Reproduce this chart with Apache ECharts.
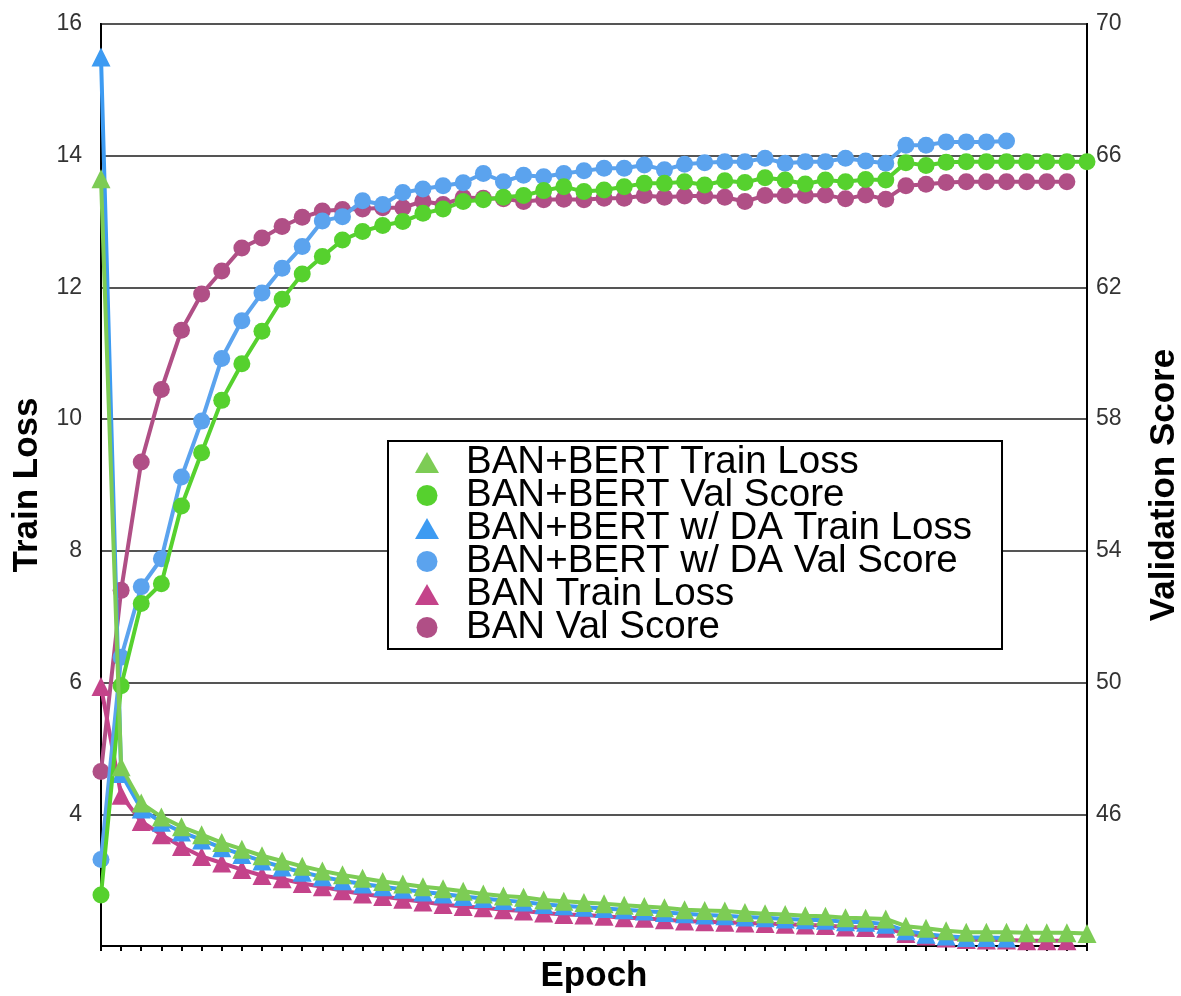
<!DOCTYPE html>
<html>
<head>
<meta charset="utf-8">
<script src="https://cdn.jsdelivr.net/npm/echarts@6/dist/echarts.min.js"></script>
<style>
html,body{margin:0;padding:0;background:#fff;}
#chart{width:1181px;height:996px;}
</style>
</head>
<body>
<div id="chart"></div>
<script>
const epochs = [1,2,3,4,5,6,7,8,9,10,11,12,13,14,15,16,17,18,19,20,21,22,23,24,25,26,27,28,29,30,31,32,33,34,35,36,37,38,39,40,41,42,43,44,45,46,47,48,49,50];

const bertLoss = [13.65,4.72,4.17,3.96,3.81,3.69,3.57,3.47,3.37,3.29,
  3.21,3.14,3.08,3.03,2.98,2.94,2.90,2.87,2.83,2.79,
  2.76,2.74,2.70,2.68,2.66,2.64,2.62,2.60,2.58,2.55,
  2.54,2.53,2.51,2.49,2.48,2.46,2.45,2.43,2.42,2.41,
  2.30,2.27,2.23,2.21,2.21,2.21,2.20,2.20,2.20,2.19];

const bertVal = [43.55,49.9,52.4,53.0,55.36,56.98,58.57,59.68,60.67,61.64,
  62.41,62.94,63.44,63.70,63.88,64.00,64.25,64.38,64.61,64.66,
  64.74,64.79,64.94,65.06,64.91,64.96,65.06,65.16,65.16,65.21,
  65.11,65.24,65.19,65.33,65.26,65.14,65.26,65.21,65.28,65.26,
  65.79,65.70,65.80,65.82,65.82,65.82,65.82,65.82,65.82,65.82];

const daLoss = [15.5,4.62,4.08,3.88,3.73,3.61,3.49,3.39,3.29,3.20,
  3.12,3.05,2.99,2.94,2.90,2.86,2.82,2.79,2.75,2.72,
  2.69,2.67,2.63,2.61,2.59,2.57,2.55,2.53,2.51,2.49,
  2.47,2.46,2.44,2.43,2.41,2.40,2.39,2.37,2.36,2.33,
  2.23,2.18,2.15,2.13,2.13,2.12];

const daVal = [44.63,50.77,52.91,53.76,56.24,57.94,59.84,60.99,61.83,62.58,
  63.24,64.02,64.15,64.63,64.52,64.88,64.99,65.09,65.18,65.46,
  65.21,65.41,65.36,65.46,65.54,65.62,65.62,65.72,65.57,65.74,
  65.79,65.82,65.82,65.92,65.77,65.82,65.82,65.92,65.84,65.77,
  66.32,66.32,66.42,66.42,66.42,66.45];

const banLoss = [5.94,4.29,3.89,3.69,3.51,3.36,3.26,3.16,3.07,3.02,
  2.95,2.90,2.84,2.79,2.75,2.71,2.67,2.63,2.60,2.58,
  2.55,2.53,2.50,2.48,2.47,2.45,2.43,2.42,2.40,2.38,
  2.37,2.36,2.35,2.34,2.33,2.32,2.31,2.29,2.28,2.27,
  2.19,2.15,2.12,2.10,2.09,2.09,2.08,2.08,2.08];

const banVal = [47.3,52.8,56.7,58.9,60.7,61.8,62.5,63.2,63.5,63.85,
  64.13,64.32,64.37,64.38,64.42,64.42,64.62,64.52,64.73,64.71,
  64.69,64.61,64.66,64.68,64.66,64.71,64.71,64.79,64.74,64.78,
  64.78,64.74,64.61,64.79,64.79,64.79,64.81,64.69,64.81,64.68,
  65.09,65.13,65.19,65.21,65.21,65.21,65.21,65.21,65.21];

const seriesNames = ['BAN+BERT Train Loss','BAN+BERT Val Score','BAN+BERT w/ DA Train Loss','BAN+BERT w/ DA Val Score','BAN Train Loss','BAN Val Score'];

const FONT = "'Liberation Sans', Arial, sans-serif";

function mk(name, data, color, sym, axis, z) {
  return {
    name: name, type: 'line', data: data, yAxisIndex: axis,
    symbol: sym, symbolSize: sym === 'triangle' ? 19 : 17,
    showSymbol: true, showAllSymbol: true,
    lineStyle: {color: color, width: 4},
    itemStyle: {color: color, opacity: 1},
    z: z, animation: false
  };
}

const chart = echarts.init(document.getElementById('chart'));
chart.setOption({
  animation: false,
  backgroundColor: '#fff',
  grid: {left: 101, right: 94, top: 24, bottom: 50, show: true, borderColor: '#000', borderWidth: 2,
         containLabel: false, outerBoundsMode: 'none'},
  legend: {
    orient: 'vertical', left: 388, top: 441,
    backgroundColor: '#fff', borderColor: '#000', borderWidth: 2,
    padding: [2, 30, 2, 27], itemGap: -6, itemWidth: 24, itemHeight: 21,
    textStyle: {fontSize: 38.5, lineHeight: 33, color: '#000', fontFamily: FONT, padding: [0,0,0,22]},
    data: [
      {name: seriesNames[0], icon: 'triangle'},
      {name: seriesNames[1], icon: 'circle'},
      {name: seriesNames[2], icon: 'triangle'},
      {name: seriesNames[3], icon: 'circle'},
      {name: seriesNames[4], icon: 'triangle'},
      {name: seriesNames[5], icon: 'circle'}
    ],
    selectedMode: false
  },
  xAxis: {
    type: 'category', data: epochs, boundaryGap: false,
    name: 'Epoch', nameLocation: 'middle', nameGap: 13,
    nameTextStyle: {fontSize: 35, fontWeight: 'bold', color: '#000', fontFamily: FONT},
    axisLine: {lineStyle: {color: '#000', width: 2}},
    axisTick: {show: true, interval: 0, length: 5, lineStyle: {color: '#000', width: 2}},
    axisLabel: {show: false},
    splitLine: {show: false}
  },
  yAxis: [
    {
      type: 'value', min: 2, max: 16, interval: 2, position: 'left',
      name: 'Train Loss', nameLocation: 'middle', nameGap: 56, nameRotate: 90,
      nameTextStyle: {fontSize: 35, fontWeight: 'bold', color: '#000', fontFamily: FONT},
      axisLine: {show: true, lineStyle: {color: '#000', width: 2}},
      axisTick: {show: false},
      axisLabel: {showMinLabel: false, fontSize: 23, color: '#333', margin: 19, fontFamily: FONT},
      splitLine: {show: true, lineStyle: {color: '#555', width: 2}}
    },
    {
      type: 'value', min: 42, max: 70, interval: 4, position: 'right',
      name: 'Validation Score', nameLocation: 'middle', nameGap: 60, nameRotate: 90,
      nameTextStyle: {fontSize: 35, fontWeight: 'bold', color: '#000', fontFamily: FONT},
      axisLine: {show: true, lineStyle: {color: '#000', width: 2}},
      axisTick: {show: false},
      axisLabel: {showMinLabel: false, fontSize: 23, color: '#333', margin: 9, fontFamily: FONT},
      splitLine: {show: false}
    }
  ],
  series: [
    mk(seriesNames[5], banVal, '#b04f86', 'circle', 1, 2),
    mk(seriesNames[4], banLoss, '#c4438a', 'triangle', 0, 3),
    mk(seriesNames[3], daVal, '#5ba3ee', 'circle', 1, 4),
    mk(seriesNames[2], daLoss, '#3d9bf2', 'triangle', 0, 5),
    mk(seriesNames[1], bertVal, '#56d12e', 'circle', 1, 6),
    mk(seriesNames[0], bertLoss, '#7dcc55', 'triangle', 0, 7)
  ]
});
</script>
</body>
</html>
